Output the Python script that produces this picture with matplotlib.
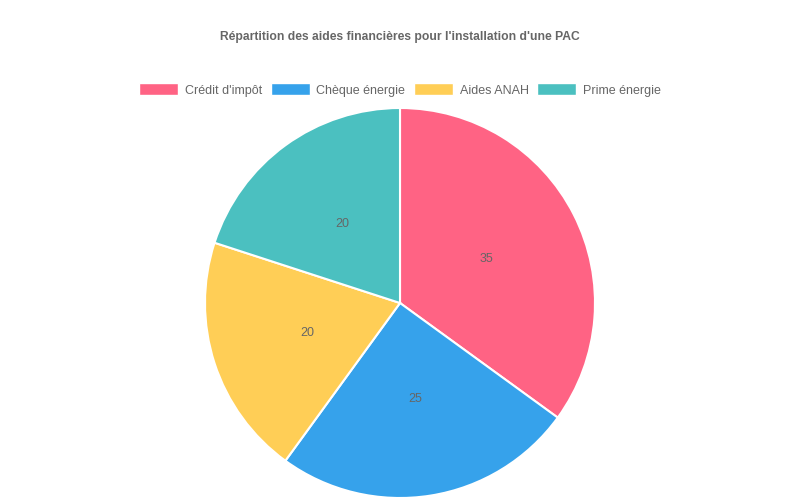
import matplotlib.pyplot as plt
from matplotlib.patches import Patch

plt.rcParams['font.family'] = ['Liberation Sans', 'DejaVu Sans']

# données
labels = ["Crédit d'impôt", "Chèque énergie", "Aides ANAH", "Prime énergie"]
values = [35, 25, 20, 20]
colors = ['#FF6384', '#36A2EB', '#FFCE56', '#4BC0C0']

fig = plt.figure(figsize=(8, 5), dpi=100)
ax = fig.add_axes([0.5 - 0.244, 0.394 - 0.39, 0.488, 0.78])

wedges, texts = ax.pie(values, colors=colors, startangle=90, counterclock=False,
                       labels=[str(v) for v in values], labeldistance=0.5,
                       wedgeprops=dict(edgecolor='white', linewidth=1.5),
                       textprops=dict(color='#666666', fontsize=9))
for t in texts:
    t.set_ha('center')
    t.set_va('center')
ax.set_xlim(-1, 1)
ax.set_ylim(-1, 1)
ax.set_aspect('equal')

fig.text(0.5, 1 - 37 / 500, "Répartition des aides financières pour l'installation d'une PAC",
         ha='center', va='center', fontsize=8.7, fontweight='bold', color='#666666')

handles = [Patch(facecolor=c, edgecolor='white') for c in colors]
fig.legend(handles, labels, loc='center', bbox_to_anchor=(0.5, 1 - 90 / 500), ncol=4,
           frameon=False, fontsize=9, labelcolor='#666666',
           handlelength=3.1, handleheight=1.1, handletextpad=0.55, columnspacing=0.7)

fig.savefig('out.png', dpi=100)
